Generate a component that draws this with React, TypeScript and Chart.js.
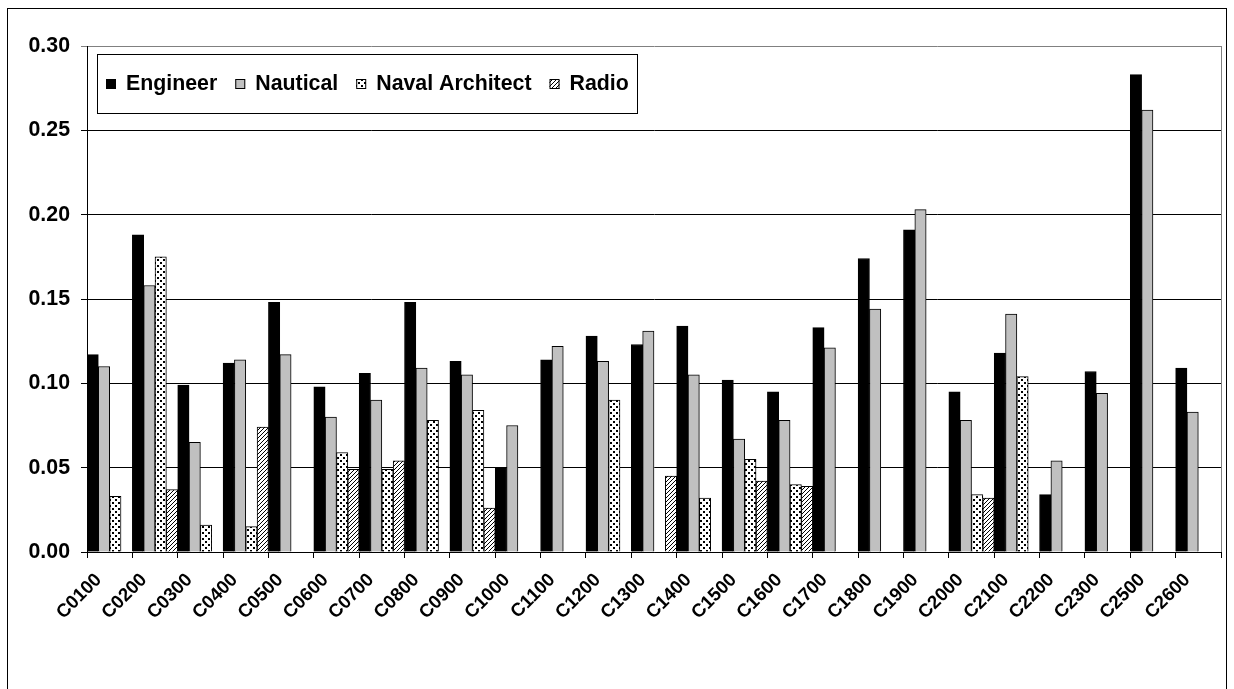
import React, { useEffect, useRef } from "react";
import { Chart, registerables } from "chart.js";

Chart.register(...registerables);

const categories = [
  "C0100", "C0200", "C0300", "C0400", "C0500", "C0600", "C0700", "C0800", "C0900",
  "C1000", "C1100", "C1200", "C1300", "C1400", "C1500", "C1600", "C1700", "C1800",
  "C1900", "C2000", "C2100", "C2200", "C2300", "C2500", "C2600",
];

const engineer = [
  0.117, 0.188, 0.099, 0.112, 0.148, 0.098, 0.106, 0.148, 0.113,
  0.050, 0.114, 0.128, 0.123, 0.134, 0.102, 0.095, 0.133, 0.174,
  0.191, 0.095, 0.118, 0.034, 0.107, 0.283, 0.109,
];

const nautical = [
  0.110, 0.158, 0.065, 0.114, 0.117, 0.080, 0.090, 0.109, 0.105,
  0.075, 0.122, 0.113, 0.131, 0.105, 0.067, 0.078, 0.121, 0.144,
  0.203, 0.078, 0.141, 0.054, 0.094, 0.262, 0.083,
];

const navalArchitect = [
  0.033, 0.175, 0.016, 0.015, null, 0.059, 0.049, 0.078, 0.084,
  null, null, 0.090, null, 0.032, 0.055, 0.040, null, null,
  null, 0.034, 0.104, null, null, null, null,
];

const radio = [
  null, 0.037, null, 0.074, null, 0.049, 0.054, null, 0.026,
  null, null, null, 0.045, null, 0.042, 0.039, null, null,
  null, 0.032, null, null, null, null, null,
];

const seriesNames = ["Engineer", "Nautical", "Naval Architect", "Radio"];
const yTicks = [0, 0.05, 0.1, 0.15, 0.2, 0.25, 0.3];

const FAMILY = 'Arial, "Liberation Sans", Helvetica, sans-serif';
const FONT_SIZE = 21.33;
const X_FONT_SIZE = 18.67;

function makeDots(): CanvasPattern | string {
  const c = document.createElement("canvas");
  c.width = 6;
  c.height = 6;
  const x = c.getContext("2d");
  if (!x) return "#fff";
  x.fillStyle = "#fff";
  x.fillRect(0, 0, 6, 6);
  x.fillStyle = "#000";
  x.fillRect(1, 1, 2, 2);
  x.fillRect(4, 4, 2, 2);
  return x.createPattern(c, "repeat") || "#fff";
}

function makeHatch(): CanvasPattern | string {
  const c = document.createElement("canvas");
  c.width = 4;
  c.height = 4;
  const x = c.getContext("2d");
  if (!x) return "#fff";
  x.fillStyle = "#fff";
  x.fillRect(0, 0, 4, 4);
  x.fillStyle = "#000";
  for (let i = 0; i < 4; i++) x.fillRect(i, 3 - i, 1, 1);
  return x.createPattern(c, "repeat") || "#fff";
}

const plotBorderPlugin = {
  id: "plotBorder",
  beforeDatasetsDraw(chart: any) {
    const { ctx, chartArea } = chart;
    ctx.save();
    ctx.strokeStyle = "#808080";
    ctx.lineWidth = 1;
    ctx.beginPath();
    const r = Math.round(chartArea.right) + 0.5;
    ctx.moveTo(r, chartArea.top);
    ctx.lineTo(r, chartArea.bottom);
    ctx.stroke();
    ctx.restore();
  },
};

const boxLegendPlugin = {
  id: "boxLegend",
  afterDraw(chart: any) {
    const { ctx, chartArea } = chart;
    const bx = Math.round(chartArea.left) + 10;
    const by = Math.round(chartArea.top) + 8;
    const bw = 540;
    const bh = 59;
    ctx.save();
    ctx.fillStyle = "#fff";
    ctx.fillRect(bx, by, bw, bh);
    ctx.strokeStyle = "#000";
    ctx.lineWidth = 1;
    ctx.strokeRect(bx + 0.5, by + 0.5, bw, bh);
    ctx.font = `bold ${FONT_SIZE}px ${FAMILY}`;
    ctx.textBaseline = "middle";
    ctx.textAlign = "left";
    const cy = by + 30;
    let x = bx + 9;
    chart.data.datasets.forEach((ds: any) => {
      ctx.fillStyle = ds.backgroundColor;
      ctx.fillRect(x, cy - 5, 10, 10);
      ctx.strokeStyle = "#000";
      ctx.strokeRect(x + 0.5, cy - 4.5, 9, 9);
      ctx.fillStyle = "#000";
      ctx.fillText(ds.label, x + 20, cy);
      x += 20 + ctx.measureText(ds.label).width + 18;
    });
    ctx.restore();
  },
};

export default function App() {
  const ref = useRef<HTMLCanvasElement>(null);

  useEffect(() => {
    const canvas = ref.current;
    if (!canvas) return;
    const fills = ["#000000", "#C0C0C0", makeDots(), makeHatch()];
    const values = [engineer, nautical, navalArchitect, radio];
    const font = { family: FAMILY, size: FONT_SIZE, weight: "bold" as const };
    const xFont = { family: FAMILY, size: X_FONT_SIZE, weight: "bold" as const };

    const chart = new Chart(canvas, {
      type: "bar",
      data: {
        labels: categories,
        datasets: seriesNames.map((name, i) => ({
          label: name,
          data: values[i] as any,
          backgroundColor: fills[i] as any,
          borderColor: "#000",
          borderWidth: 1,
          categoryPercentage: 1,
          barPercentage: 1,
        })),
      },
      options: {
        responsive: false,
        animation: false,
        devicePixelRatio: 1,
        layout: { padding: { left: 0, top: 46, right: 13, bottom: 0 } },
        plugins: {
          legend: { display: false },
          tooltip: { enabled: false },
        },
        scales: {
          x: {
            grid: {
              offset: true,
              drawOnChartArea: false,
              drawTicks: true,
              tickLength: 6,
              color: "#000",
            },
            border: { color: "#000", width: 1 },
            ticks: {
              autoSkip: false,
              minRotation: 45,
              maxRotation: 45,
              color: "#000",
              font: xFont,
              padding: 11,
              labelOffset: -11,
            },
            afterFit: (s: any) => {
              s.height = 137;
            },
          },
          y: {
            min: 0,
            max: 0.3,
            afterBuildTicks: (s: any) => {
              s.ticks = yTicks.map((v) => ({ value: v }));
            },
            ticks: {
              color: "#000",
              font,
              padding: 11,
              callback: (v: any) => Number(v).toFixed(2),
            },
            grid: {
              color: (c: any) =>
                c.tick && Math.abs(c.tick.value - 0.3) < 1e-9 ? "#808080" : "#000",
              tickLength: 6,
              lineWidth: 1,
            },
            border: { color: "#000", width: 1 },
            afterFit: (s: any) => {
              s.width = 87;
            },
          },
        },
      },
      plugins: [plotBorderPlugin, boxLegendPlugin],
    });
    return () => chart.destroy();
  }, []);

  return (
    <div
      style={{
        position: "absolute",
        left: 0,
        top: 0,
        width: 1234,
        height: 689,
        overflow: "hidden",
        background: "#fff",
      }}
    >
      <div
        style={{
          position: "absolute",
          left: 7,
          top: 8,
          width: 1220,
          height: 720,
          border: "1px solid #000",
          boxSizing: "border-box",
        }}
      />
      <canvas
        ref={ref}
        width={1234}
        height={689}
        style={{ position: "absolute", left: 0, top: 0, width: 1234, height: 689 }}
      />
    </div>
  );
}
